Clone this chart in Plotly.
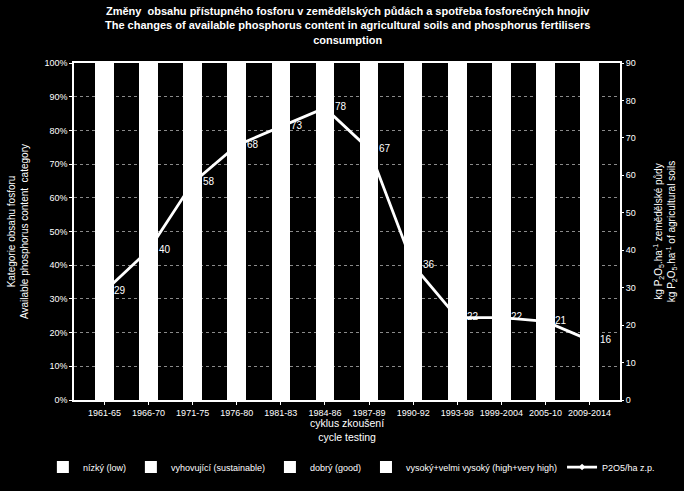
import plotly.graph_objects as go

categories = ["1961-65", "1966-70", "1971-75", "1976-80", "1981-83", "1984-86",
              "1987-89", "1990-92", "1993-98", "1999-2004", "2005-10", "2009-2014"]

# share of phosphorus content categories (%), all drawn white in the reference
low = [55, 48, 38, 25, 18, 14, 10, 9, 10, 12, 14, 16]
sustainable = [25, 27, 30, 30, 28, 25, 22, 20, 22, 24, 25, 26]
good = [12, 15, 18, 23, 27, 29, 30, 30, 30, 30, 30, 29]
high = [8, 10, 14, 22, 27, 32, 38, 41, 38, 34, 31, 29]

p2o5 = [29, 40, 58, 68, 73, 78, 67, 36, 22, 22, 21, 16]

series_names = ["nízký (low)", "vyhovující (sustainable)", "dobrý (good)",
                "vysoký+velmi vysoký (high+very high)"]
line_name = "P2O5/ha z.p."

title_lines = ["Změny  obsahu přístupného fosforu v zemědělských půdách a spotřeba fosforečných hnojiv",
               "The changes of available phosphorus content in agricultural soils and phosphorus fertilisers",
               "consumption"]
x_title = "cyklus zkoušení<br>cycle testing"

FONT = "Liberation Sans, Arial, sans-serif"

fig = go.Figure()
for name, vals in zip(series_names, [low, sustainable, good, high]):
    fig.add_trace(go.Bar(
        x=categories, y=[v / 100 for v in vals], name=name,
        marker=dict(color="white", line=dict(width=0)),
        width=0.42,
    ))

fig.add_trace(go.Scatter(
    x=categories, y=p2o5, name=line_name, yaxis="y2",
    mode="lines+markers",
    line=dict(color="white", width=2.8),
    marker=dict(symbol="diamond", size=5, color="white"),
))

annotations = [
    dict(x=c, y=v, xref="x", yref="y2", text=str(v), showarrow=False,
         xanchor="left", yanchor="middle", xshift=8, yshift=1,
         font=dict(size=10, color="white", family=FONT))
    for c, v in zip(categories, p2o5)
]
annotations.append(dict(
    x=0.5, y=1.178, xref="paper", yref="paper",
    text="<br>".join("<b>" + t + "</b>" for t in title_lines), showarrow=False,
    xanchor="center", yanchor="top", align="center",
    font=dict(size=11, color="white", family=FONT),
))
annotations.append(dict(
    x=0.5, y=-0.089, xref="paper", yref="paper", text=x_title, showarrow=False,
    xanchor="center", yanchor="middle", align="center",
    font=dict(size=10.5, color="white", family=FONT),
))

fig.update_layout(
    width=684, height=491,
    paper_bgcolor="black", plot_bgcolor="black",
    barmode="stack",
    font=dict(family=FONT, color="white", size=9),
    margin=dict(l=74, r=64, t=63, b=91, autoexpand=False),
    annotations=annotations,
    xaxis=dict(
        type="category",
        showline=True, linecolor="white", linewidth=1.5, mirror=True,
        ticks="outside", tickcolor="white", ticklen=3,
        tickfont=dict(size=9, color="white"),
        showgrid=False,
    ),
    yaxis=dict(
        range=[0, 1], tickformat=".0%", dtick=0.1,
        showline=True, linecolor="white", linewidth=1.5, mirror=True,
        ticks="outside", tickcolor="white", ticklen=3,
        showgrid=True, gridcolor="#8a8a8a", griddash="dot", gridwidth=1,
        tickfont=dict(size=9, color="white"),
        title=dict(text="Kategorie obsahu fosforu<br>Available phosphorus content  category",
                   font=dict(size=10, color="white"), standoff=14),
        zeroline=False,
    ),
    yaxis2=dict(
        range=[0, 90], dtick=10, overlaying="y", side="right",
        showgrid=False, zeroline=False,
        ticks="outside", tickcolor="white", ticklen=3,
        tickfont=dict(size=9, color="white"),
        title=dict(text="kg P<sub>2</sub>O<sub>5</sub>.ha<sup>-1</sup> zemědělské půdy<br>"
                        "kg P<sub>2</sub>O<sub>5</sub>.ha<sup>-1</sup> of agricultural soils",
                   font=dict(size=10, color="white"), standoff=20),
    ),
    legend=dict(
        orientation="h", xref="paper", yref="paper",
        x=-0.057, xanchor="left", y=-0.199, yanchor="middle",
        font=dict(size=9, color="white"), bgcolor="rgba(0,0,0,0)",
        traceorder="normal",
    ),
    showlegend=True,
)

fig.write_html("out.html")
